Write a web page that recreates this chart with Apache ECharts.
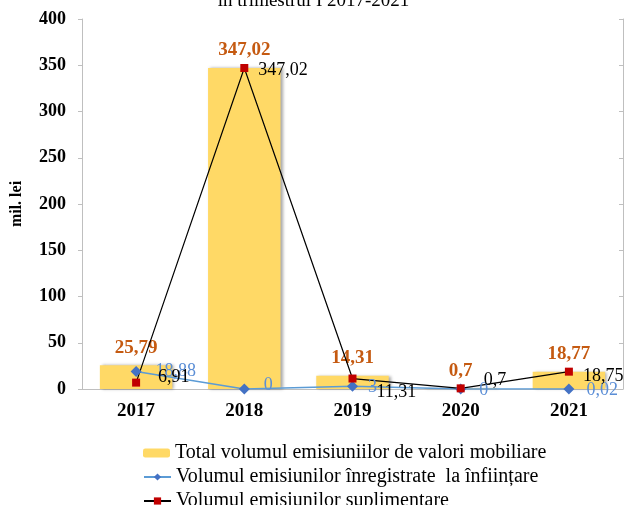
<!DOCTYPE html>
<html lang="ro">
<head>
    <meta charset="UTF-8">
    <title>Emisiuni valori mobiliare</title>
    <script src="https://cdn.jsdelivr.net/npm/echarts@6/dist/echarts.min.js"></script>
    <style>
        html, body { margin: 0; padding: 0; background: #fff; }
        #chart { width: 627px; height: 505px; }
    </style>
</head>
<body>
<div id="chart"></div>
<script type="text/javascript">
    // date
    const years = ['2017', '2018', '2019', '2020', '2021'];
    const totalVol = [25.79, 347.02, 14.31, 0.7, 18.77];
    const volInfiintare = [18.88, 0, 3, 0, 0.02];
    const volSuplimentare = [6.91, 347.02, 11.31, 0.7, 18.75];
    const yTicks = [0, 400, 50]; // min, max, pas

    const numeSerii = [
        'Total volumul emisiuniilor de valori mobiliare',
        'Volumul emisiunilor înregistrate  la înființare',
        'Volumul emisiunilor suplimentare'
    ];

    const serif = 'Liberation Serif';
    const fmt = v => String(v).replace('.', ',');

    // decalaje etichete (ca in Excel, pozitionate manual)
    const offSupl = [[18, -5], [10, 2], [20, 14], [19, -8], [10, 5]];
    const offInf = [[14, 0], [14, -4], [10, 1], [13, 1], [12, 1]];

    const chart = echarts.init(document.getElementById('chart'));

    // o legenda pe rand, ca in Excel
    const legends = numeSerii.map((name, i) => ({
        data: [name],
        left: 138,
        top: 438 + i * 24,
        itemWidth: 27,
        itemHeight: 9,
        textStyle: {fontFamily: serif, fontSize: 20, color: '#000'}
    }));

    const option = {
        animation: false,
        title: {
            text: 'în trimestrul I 2017-2021',
            left: 'center',
            top: -13,
            textStyle: {fontFamily: serif, fontSize: 19, fontWeight: 'normal', color: '#000'}
        },
        grid: {left: 82, right: 4, top: 19, bottom: 116, outerBoundsMode: 'none'},
        legend: legends,
        xAxis: {
            type: 'category',
            data: years,
            axisLine: {lineStyle: {color: '#BFBFBF'}},
            axisTick: {show: false},
            axisLabel: {fontFamily: serif, fontSize: 19, fontWeight: 'bold', color: '#000', margin: 13}
        },
        yAxis: [{
            type: 'value',
            min: yTicks[0],
            max: yTicks[1],
            interval: yTicks[2],
            name: 'mil. lei',
            nameLocation: 'middle',
            nameRotate: 90,
            nameGap: 57,
            nameTextStyle: {fontFamily: serif, fontSize: 16, fontWeight: 'bold', color: '#000'},
            axisLine: {show: true, lineStyle: {color: '#BFBFBF'}},
            axisTick: {show: true, length: 4, lineStyle: {color: '#BFBFBF'}},
            splitLine: {show: false},
            axisLabel: {fontFamily: serif, fontSize: 18, fontWeight: 'bold', color: '#000', margin: 16}
        }, {
            type: 'value',
            position: 'right',
            min: yTicks[0],
            max: yTicks[1],
            interval: yTicks[2],
            axisLine: {show: true, lineStyle: {color: '#BFBFBF'}},
            axisTick: {show: true, inside: true, length: 4, lineStyle: {color: '#BFBFBF'}},
            splitLine: {show: false},
            axisLabel: {show: false}
        }],
        series: [{
            name: numeSerii[0],
            type: 'bar',
            data: totalVol,
            barWidth: '67%',
            itemStyle: {
                color: '#FFD966',
                shadowColor: 'rgba(0,0,0,0.35)',
                shadowBlur: 3,
                shadowOffsetX: 2
            },
            label: {
                show: true,
                position: 'top',
                distance: 8,
                formatter: p => fmt(p.value),
                fontFamily: serif,
                fontSize: 19,
                fontWeight: 'bold',
                color: '#C55A11'
            }
        }, {
            name: numeSerii[1],
            type: 'line',
            yAxisIndex: 1,
            data: volInfiintare.map((v, i) => ({
                value: v,
                label: {offset: offInf[i]}
            })),
            symbol: 'diamond',
            symbolSize: 11,
            lineStyle: {color: '#5B9BD5', width: 1.5},
            itemStyle: {color: '#4472C4'},
            label: {
                show: true,
                position: 'right',
                distance: 0,
                formatter: p => fmt(p.value),
                fontFamily: serif,
                fontSize: 18,
                color: '#5B8ED6'
            }
        }, {
            name: numeSerii[2],
            type: 'line',
            yAxisIndex: 1,
            data: volSuplimentare.map((v, i) => ({
                value: v,
                label: {offset: offSupl[i]}
            })),
            symbol: 'rect',
            symbolSize: 8,
            lineStyle: {color: '#000', width: 1.2},
            itemStyle: {color: '#C00000'},
            label: {
                show: true,
                position: 'right',
                distance: 0,
                formatter: p => fmt(p.value),
                fontFamily: serif,
                fontSize: 18,
                color: '#000'
            }
        }]
    };

    chart.setOption(option);
</script>
</body>
</html>
